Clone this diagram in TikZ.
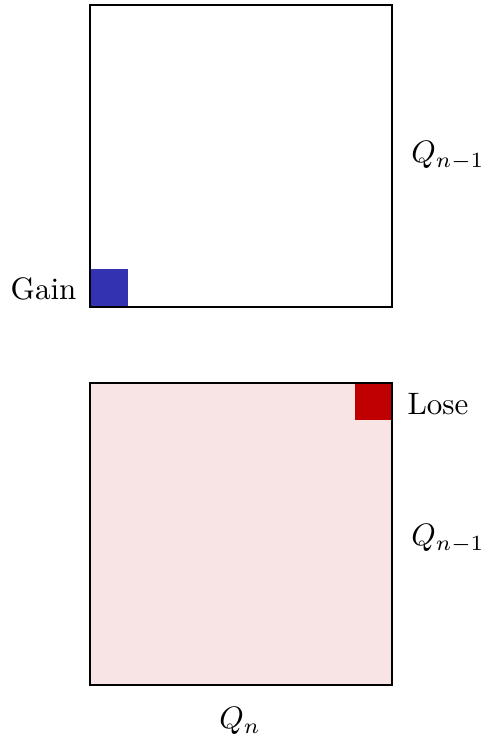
\documentclass[tikz,border=0pt]{standalone}
\begin{document}
\begin{tikzpicture}[x=1pt,y=-1pt,
  lbl/.style={scale=3.1,inner sep=0pt},
  frame/.style={draw=black,line width=2.6pt}]
\useasboundingbox (0,0) rectangle (480,740);
\definecolor{gainblue}{RGB}{51,51,178}
\definecolor{losered}{RGB}{192,0,0}
\definecolor{pinkfill}{RGB}{248,228,228}
% top square
\fill[gainblue] (90,269) rectangle (128,307);
\node[frame,minimum width=302pt,minimum height=302pt,inner sep=0pt] (top) at (241,156) {};
% bottom square
\fill[pinkfill] (90,383) rectangle (392,685);
\fill[losered] (355,383) rectangle (392,420);
\node[frame,minimum width=302pt,minimum height=302pt,inner sep=0pt] (bot) at (241,534) {};
% labels
\node[lbl] (q1) at (448,156) {$Q_{n-1}$};
\node[lbl,anchor=east] (gain) at (77,289) {Gain};
\node[lbl,anchor=west] (lose) at (407,404) {Lose};
\node[lbl] (q2) at (448,539) {$Q_{n-1}$};
\node[lbl] (qn) at (240,721) {$Q_n$};
\end{tikzpicture}
\end{document}
